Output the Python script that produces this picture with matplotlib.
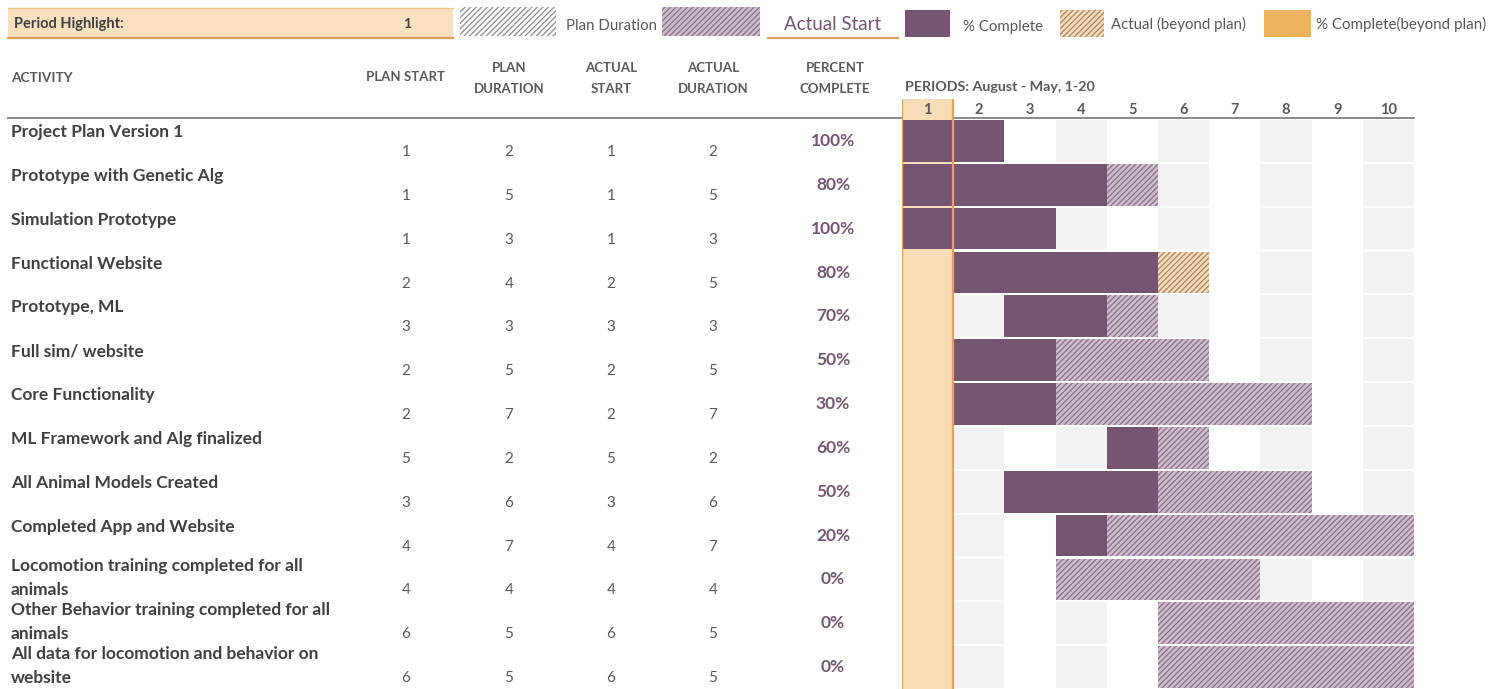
import numpy as np
import matplotlib.pyplot as plt
from matplotlib.patches import Rectangle

plt.rcParams['font.family'] = ['Lato', 'DejaVu Sans']
plt.rcParams['hatch.linewidth'] = 0.9

# ---- data ----
activities = [
    "Project Plan Version 1",
    "Prototype with Genetic Alg",
    "Simulation Prototype",
    "Functional Website",
    "Prototype, ML",
    "Full sim/ website",
    "Core Functionality",
    "ML Framework and Alg finalized",
    "All Animal Models Created",
    "Completed App and Website",
    "Locomotion training completed for all\nanimals",
    "Other Behavior training completed for all\nanimals",
    "All data for locomotion and behavior on\nwebsite",
]
plan_start = [1, 1, 1, 2, 3, 2, 2, 5, 3, 4, 4, 6, 6]
plan_dur = [2, 5, 3, 4, 3, 5, 7, 2, 6, 7, 4, 5, 5]
actual_start = [1, 1, 1, 2, 3, 2, 2, 5, 3, 4, 4, 6, 6]
actual_dur = [2, 5, 3, 5, 3, 5, 7, 2, 6, 7, 4, 5, 5]
pct_complete = [100, 80, 100, 80, 70, 50, 30, 60, 50, 20, 0, 0, 0]
periods = list(range(1, 11))
period_highlight = 1

# ---- colours ----
PURPLE = '#765573'
PURPLE_LIGHT = '#cdbdcd'
PURPLE_HATCH = '#8a6d87'
ORANGE = '#edb25e'
PEACH = '#f8dcb6'
PEACH_HATCH = '#a8806a'
ORANGE_LINE = '#e2a458'
GRAY_CELL = '#f2f2f2'
TXT = '#404040'
TXT2 = '#595959'
HATCH = '//////'

styles = {
    'done': dict(color=PURPLE, hatch=None, edgecolor=PURPLE),
    'done_beyond': dict(color=ORANGE, hatch=None, edgecolor=ORANGE),
    'plan': dict(color=PURPLE_LIGHT, hatch=HATCH, edgecolor=PURPLE_HATCH),
    'beyond': dict(color=PEACH, hatch=HATCH, edgecolor=PEACH_HATCH),
}

W, H = 1506, 689
fig = plt.figure(figsize=(W / 100, H / 100), dpi=100)

bg = fig.add_axes([0, 0, 1, 1])
bg.set_xlim(0, W)
bg.set_ylim(H, 0)
bg.axis('off')

row_top = 119
row_h = (H - row_top) / len(activities)
g_left, g_right, g_top = 902, 1414, 99

gx = fig.add_axes([g_left / W, 0, (g_right - g_left) / W, (H - g_top) / H])
gx.set_xlim(periods[0], periods[-1] + 1)
gx.set_ylim(len(activities), -(row_top - g_top) / row_h)
gx.axis('off')
gx.patch.set_alpha(0)

# ---- legend strip ----
bg.add_patch(Rectangle((8, 8), 445, 30, facecolor='#fbe0bf', edgecolor='none'))
bg.plot([8, 453], [8, 8], color='#f0c890', lw=1)
bg.plot([8, 453], [38, 38], color='#d9a05a', lw=1.6)
bg.text(14, 24, "Period Highlight:", fontsize=10.5, fontweight='bold', color=TXT, va='center')
bg.text(407, 24, str(period_highlight), fontsize=10, fontweight='bold', color=TXT, va='center', ha='center')

bg.add_patch(Rectangle((460, 7), 96, 29, facecolor='white', edgecolor='#8a8a8a', hatch=HATCH, lw=0))
bg.text(566, 26, "Plan Duration", fontsize=10.8, color=TXT2, va='center')
bg.add_patch(Rectangle((662, 7), 98, 29, facecolor=PURPLE_LIGHT, edgecolor=PURPLE_HATCH, hatch=HATCH, lw=0))
bg.text(784, 24, "Actual Start", fontsize=13.5, color=PURPLE, va='center')
bg.plot([768, 898], [38, 38], color='#d9a05a', lw=1.6)
bg.add_patch(Rectangle((905, 10), 45, 27, facecolor=PURPLE, edgecolor='none'))
bg.text(963, 27, "% Complete", fontsize=10.8, color=TXT2, va='center')
bg.add_patch(Rectangle((1060, 10), 44, 27, facecolor=PEACH, edgecolor=PEACH_HATCH, hatch=HATCH, lw=0))
bg.text(1111, 24, "Actual (beyond plan)", fontsize=10.8, color=TXT2, va='center')
bg.add_patch(Rectangle((1264, 10), 47, 27, facecolor=ORANGE, edgecolor='none'))
bg.text(1316, 24, "% Complete(beyond plan)", fontsize=10.9, color=TXT2, va='center')

# ---- table headers ----
col_x = [406, 509, 611, 713, 835]
hdr = dict(fontsize=9.5, fontweight='bold', color=TXT2, ha='center', va='center')
bg.text(11, 78, "ACTIVITY", fontsize=9.8, fontweight='bold', color=TXT2, va='center')
bg.text(col_x[0], 77, "PLAN START", **hdr)
for x, (a, b) in zip(col_x[1:], [("PLAN", "DURATION"), ("ACTUAL", "START"),
                                 ("ACTUAL", "DURATION"), ("PERCENT", "COMPLETE")]):
    bg.text(x, 68, a, **hdr)
    bg.text(x, 89, b, **hdr)
bg.text(905, 87, "PERIODS: August - May, 1-20", fontsize=10.3, fontweight='bold', color=TXT2, va='center')
bg.plot([8, g_right], [118, 118], color='#808080', lw=1.3, zorder=5)

# ---- table rows ----
for i, name in enumerate(activities):
    top = row_top + i * row_h
    lines = name.split('\n')
    lab = dict(fontsize=12.5, fontweight='bold', color=TXT, va='center')
    if len(lines) == 1:
        bg.text(11, top + 13, name, **lab)
    else:
        bg.text(11, top + 8.5, lines[0], **lab)
        bg.text(11, top + 32.5, lines[1], **lab)
    vals = [plan_start[i], plan_dur[i], actual_start[i], actual_dur[i]]
    for x, v in zip(col_x[:4], vals):
        bg.text(x, top + 33, str(v), fontsize=11, color=TXT2, ha='center', va='center')
    bg.text(col_x[4] - 2, top + 22, f"{pct_complete[i]}%", fontsize=12.5, fontweight='bold',
            color=PURPLE, ha='center', va='center')

# ---- gantt grid ----
rows = np.arange(len(activities)) + 0.5
for p in periods:
    if p % 2 == 0:
        gx.barh(rows, 1, left=p, height=0.95, color=GRAY_CELL, lw=0, zorder=1)
gx.axvspan(period_highlight, period_highlight + 1, color=PEACH, lw=0, zorder=1)
for p in periods:
    gx.text(p + 0.5, -0.21, str(p), fontsize=10.5, fontweight='bold', color=TXT2,
            ha='center', va='center', zorder=6)


def row_segments(i):
    ps, pdur = plan_start[i], plan_dur[i]
    ast, adur = actual_start[i], actual_dur[i]
    done_end = ast + adur * pct_complete[i] // 100
    segs = []
    for p in range(min(ps, ast), max(ps + pdur, ast + adur)):
        in_plan = ps <= p < ps + pdur
        in_act = ast <= p < ast + adur
        if ast <= p < done_end:
            kind = 'done' if in_plan else 'done_beyond'
        elif in_plan:
            kind = 'plan'
        elif in_act:
            kind = 'beyond'
        else:
            continue
        if segs and segs[-1][2] == kind and segs[-1][0] + segs[-1][1] == p:
            segs[-1][1] += 1
        else:
            segs.append([p, 1, kind])
    return segs


for i in range(len(activities)):
    for start, length, kind in row_segments(i):
        st = styles[kind]
        gx.barh(i + 0.5, length, left=start, height=0.95, color=st['color'],
                hatch=st['hatch'], edgecolor=st['edgecolor'], lw=0, zorder=3)

for x in (period_highlight, period_highlight + 1):
    gx.axvline(x, color=ORANGE_LINE, lw=1.6, zorder=7)

fig.savefig('out.png', dpi=100, facecolor='white')
